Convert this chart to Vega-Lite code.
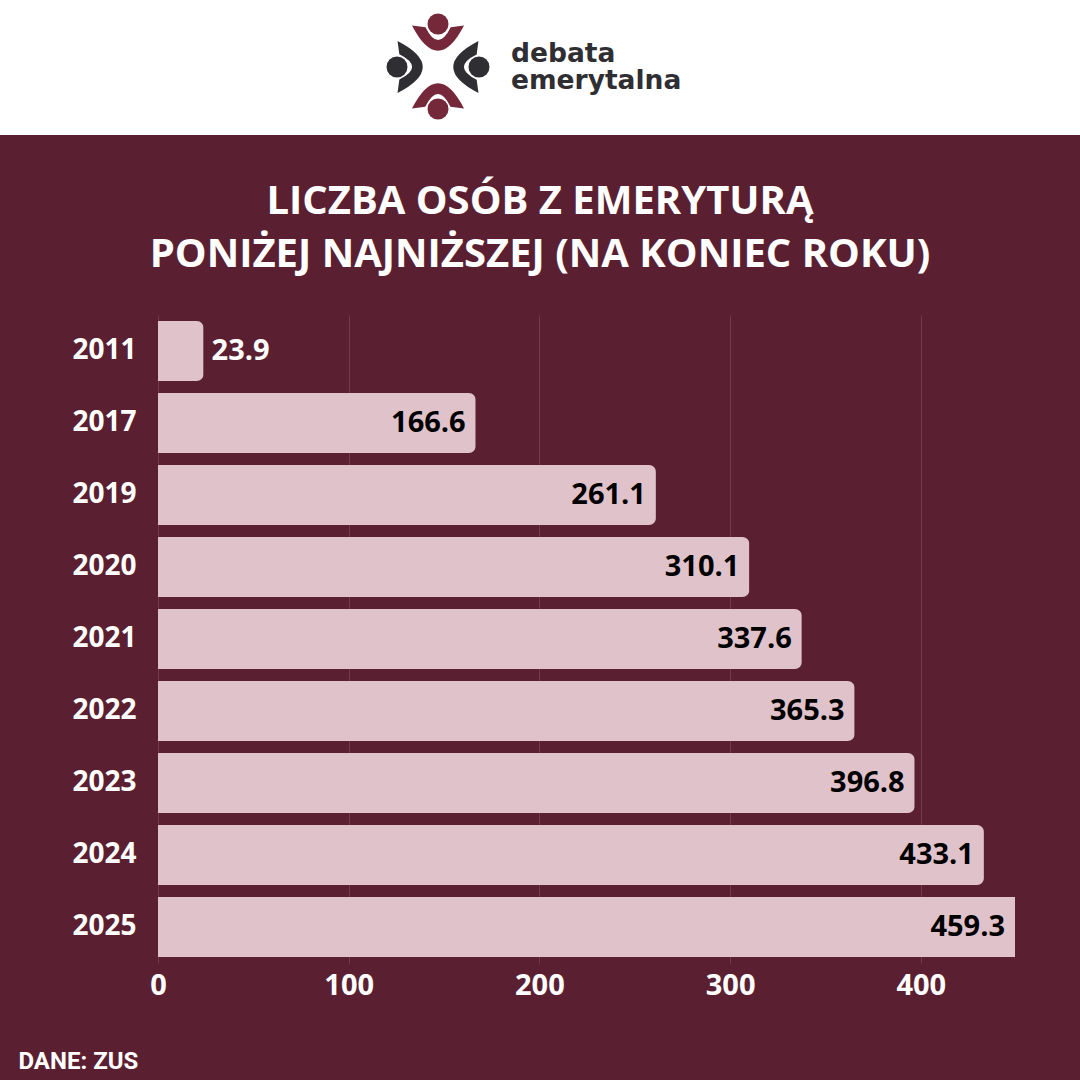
{
  "$schema": "https://vega.github.io/schema/vega-lite/v6.json",
  "background": "#5B1F32",
  "padding": {"left": 0, "top": 0, "right": 0, "bottom": 20},
  "spacing": 47,
  "config": {"view": {"stroke": null}, "font": "Open Sans"},
  "vconcat": [
    {
      "width": 1080,
      "height": 135,
      "view": {"fill": "#FFFFFF", "stroke": null},
      "layer": [
        {
          "data": {"values": [
            {"part": "arm", "px": 438, "py": 38, "rot": 0, "tone": "maroon"},
            {"part": "arm", "px": 438, "py": 96, "rot": 180, "tone": "maroon"},
            {"part": "arm", "px": 410, "py": 67, "rot": 270, "tone": "dark"},
            {"part": "arm", "px": 466, "py": 67, "rot": 90, "tone": "dark"}
          ]},
          "mark": {"type": "point", "filled": true, "opacity": 1, "size": 2704, "strokeWidth": 0,
                   "shape": "M -1 -0.48 L -0.48 -0.41 Q 0 0.57 0.49 -0.41 L 1 -0.48 Q 0 1.46 -1 -0.48 Z"},
          "encoding": {
            "x": {"field": "px", "type": "quantitative", "scale": {"domain": [0, 1080], "nice": false, "zero": false}, "axis": null},
            "y": {"field": "py", "type": "quantitative", "scale": {"domain": [0, 135], "nice": false, "zero": false, "reverse": true}, "axis": null},
            "angle": {"field": "rot", "type": "quantitative", "scale": null},
            "color": {"field": "tone", "type": "nominal", "scale": {"domain": ["maroon", "dark"], "range": ["#74283A", "#2F2E33"]}, "legend": null}
          }
        },
        {
          "data": {"values": [
            {"part": "head", "px": 438, "py": 24, "tone": "maroon"},
            {"part": "head", "px": 438, "py": 109, "tone": "maroon"},
            {"part": "head", "px": 397, "py": 67, "tone": "dark"},
            {"part": "head", "px": 479, "py": 67, "tone": "dark"}
          ]},
          "mark": {"type": "point", "shape": "circle", "filled": true, "opacity": 1, "size": 441, "strokeWidth": 0},
          "encoding": {
            "x": {"field": "px", "type": "quantitative"},
            "y": {"field": "py", "type": "quantitative"},
            "color": {"field": "tone", "type": "nominal", "legend": null}
          }
        },
        {
          "data": {"values": [
            {"word": "debata\nemerytalna", "px": 511, "py": 62}
          ]},
          "mark": {"type": "text", "align": "left", "baseline": "alphabetic", "lineBreak": "\n", "lineHeight": 27, "font": "DejaVu Sans", "fontWeight": "bold", "fontSize": 26.5, "color": "#2F2E33"},
          "encoding": {
            "x": {"field": "px", "type": "quantitative"},
            "y": {"field": "py", "type": "quantitative"},
            "text": {"field": "word"}
          }
        }
      ]
    },
    {
      "width": 1015,
      "height": 648,
      "title": {
        "text": ["LICZBA OSÓB Z EMERYTURĄ", "PONIŻEJ NAJNIŻSZEJ (NA KONIEC ROKU)"],
        "font": "Open Sans",
        "fontSize": 40,
        "fontWeight": "bold",
        "color": "#FFFFFF",
        "lineHeight": 53,
        "anchor": "middle",
        "dx": 32.5,
        "offset": 40
      },
      "data": {"values": [
        {"year": "2011", "value": 23.9},
        {"year": "2017", "value": 166.6},
        {"year": "2019", "value": 261.1},
        {"year": "2020", "value": 310.1},
        {"year": "2021", "value": 337.6},
        {"year": "2022", "value": 365.3},
        {"year": "2023", "value": 396.8},
        {"year": "2024", "value": 433.1},
        {"year": "2025", "value": 459.3}
      ]},
      "encoding": {
        "y": {
          "field": "year", "type": "nominal", "sort": null,
          "scale": {"paddingInner": 0.1667, "paddingOuter": 0.0833},
          "axis": {
            "title": null, "domain": false, "ticks": false,
            "labelFont": "Open Sans", "labelFontWeight": "bold", "labelFontSize": 28,
            "labelColor": "#FFFFFF", "labelPadding": 22, "offset": -158
          }
        },
        "x": {
          "field": "value", "type": "quantitative",
          "scale": {"domain": [-82.85, 449.4], "nice": false, "zero": false, "clamp": true},
          "axis": {
            "values": [0, 100, 200, 300, 400],
            "domain": false, "ticks": false,
            "grid": true, "gridColor": "#FFFFFF", "gridOpacity": 0.13, "gridWidth": 1,
            "labelFont": "Open Sans", "labelFontWeight": "bold", "labelFontSize": 29,
            "labelColor": "#FFFFFF", "labelPadding": 8, "labelFlush": false,
            "title": "DANE: ZUS",
            "titleFont": "Roboto", "titleFontSize": 24, "titleFontWeight": "bold",
            "titleColor": "#FFFFFF", "titleAlign": "left", "titleBaseline": "alphabetic",
            "titleX": 18, "titleY": 105
          }
        }
      },
      "layer": [
        {
          "transform": [{"filter": "datum.value <= 449.4"}],
          "mark": {"type": "bar", "fill": "#E0C3CA", "cornerRadiusEnd": 7}
        },
        {
          "transform": [{"filter": "datum.value > 449.4"}],
          "mark": {"type": "bar", "fill": "#E0C3CA", "cornerRadiusEnd": 0}
        },
        {
          "transform": [{"filter": "datum.value < 50"}],
          "mark": {"type": "text", "align": "left", "baseline": "middle", "dx": 8, "font": "Open Sans", "fontWeight": "bold", "fontSize": 29, "color": "#FFFFFF"},
          "encoding": {
            "text": {"field": "value", "type": "quantitative", "format": ".1f"}
          }
        },
        {
          "transform": [{"filter": "datum.value >= 50"}],
          "mark": {"type": "text", "align": "right", "baseline": "middle", "dx": -10, "font": "Open Sans", "fontWeight": "bold", "fontSize": 29, "color": "#000000"},
          "encoding": {
            "text": {"field": "value", "type": "quantitative", "format": ".1f"}
          }
        }
      ]
    }
  ]
}
